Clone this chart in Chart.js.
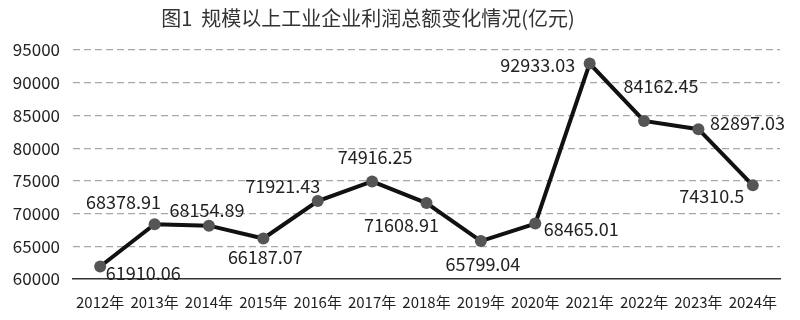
<!DOCTYPE html>
<html>
<head>
<meta charset="utf-8">
<script src="https://cdn.jsdelivr.net/npm/chart.js@4/dist/chart.umd.min.js"></script>
<style>
  html, body { margin: 0; padding: 0; background: #fff; }
</style>
</head>
<body>
<canvas id="profitChart" width="800" height="320"></canvas>
<script>
'use strict'
{
  const years = ['2012年', '2013年', '2014年', '2015年', '2016年', '2017年', '2018年',
    '2019年', '2020年', '2021年', '2022年', '2023年', '2024年'];
  const profits = [61910.06, 68378.91, 68154.89, 66187.07, 71921.43, 74916.25, 71608.91,
    65799.04, 68465.01, 92933.03, 84162.45, 82897.03, 74310.5];
  const titleText = '图1  规模以上工业企业利润总额变化情况(亿元)';

  // where each value label sits relative to its point (centre offset, px)
  const labelOffsets = [[43, 7], [-31, -22], [-2, -15], [2, 19], [-35, -15], [3, -24], [-25, 22],
    [2, 23], [46, 6], [-52, 2], [17, -35], [49, -6], [-41, 11]];

  const font = '"Noto Sans CJK SC", "Noto Sans", sans-serif';

  const titlePlugin = {
    id: 'customTitle',
    afterDraw(chart) {
      const c = chart.ctx;
      c.save();
      c.font = '20px ' + font;
      c.fillStyle = '#333';
      c.textAlign = 'center';
      c.textBaseline = 'middle';
      c.fillText(titleText, 368, 18);
      c.restore();
    }
  };

  const valueLabels = {
    id: 'valueLabels',
    afterDatasetsDraw(chart) {
      const c = chart.ctx;
      const meta = chart.getDatasetMeta(0);
      c.save();
      c.font = '18px ' + font;
      c.fillStyle = '#222';
      c.textAlign = 'center';
      c.textBaseline = 'middle';
      meta.data.forEach((pt, i) => {
        const off = labelOffsets[i];
        c.fillText(String(profits[i]), pt.x + off[0], pt.y + off[1]);
      });
      c.restore();
    }
  };

  const ctx = document.getElementById('profitChart').getContext('2d');

  new Chart(ctx, {
    type: 'line',
    data: {
      labels: years,
      datasets: [{
        data: profits,
        borderColor: '#111',
        borderWidth: 4,
        pointRadius: 6,
        pointBackgroundColor: '#555',
        pointBorderColor: '#555',
        pointBorderWidth: 0,
        tension: 0,
      }],
    },
    options: {
      responsive: false,
      animation: false,
      layout: {
        padding: { top: 50, right: 20, bottom: 0, left: 0 },
      },
      plugins: {
        legend: { display: false },
        title: { display: false },
        tooltip: { enabled: false },
      },
      scales: {
        x: {
          offset: true,
          grid: { display: false, drawTicks: false },
          border: { display: true, color: '#333', width: 1.5 },
          ticks: {
            color: '#222',
            padding: 14,
            maxRotation: 0,
            autoSkip: false,
            font: { family: font, size: 15 },
          },
          afterFit(scale) { scale.height = 41; },
        },
        y: {
          min: 60000,
          max: 95000,
          grid: {
            drawTicks: false,
            color: (c) => (c.tick && c.tick.value === 60000 ? 'rgba(0,0,0,0)' : '#a8a8a8'),
            lineWidth: 1.2,
          },
          border: { display: false, dash: [7, 4] },
          ticks: {
            stepSize: 5000,
            color: '#222',
            padding: 13,
            font: { family: font, size: 17 },
            callback: (v) => String(v),
          },
          afterFit(scale) { scale.width = 73; },
        },
      },
    },
    plugins: [titlePlugin, valueLabels],
  });
}
</script>
</body>
</html>
